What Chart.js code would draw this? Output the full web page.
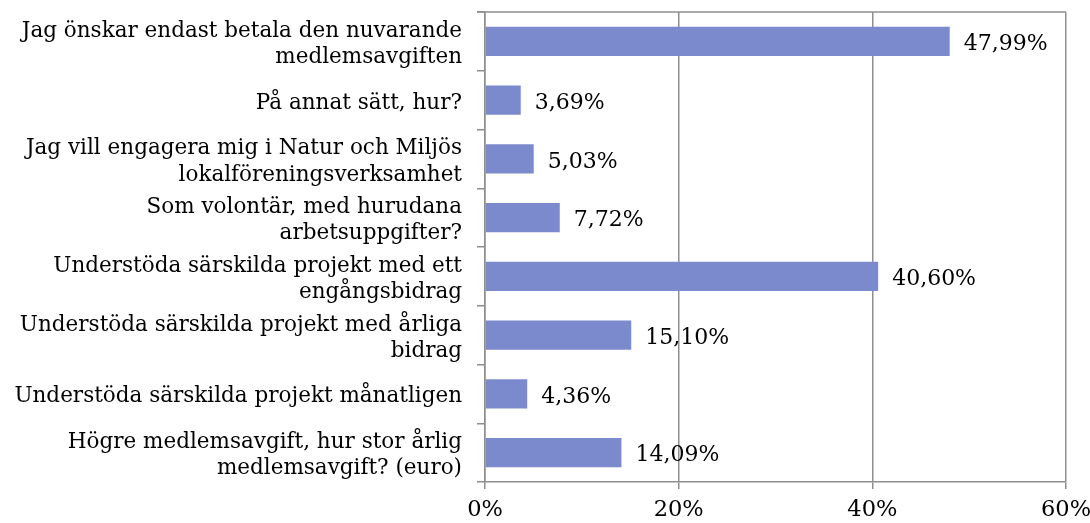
<!DOCTYPE html>
<html>
<head>
<meta charset="utf-8">
<script src="https://cdn.jsdelivr.net/npm/chart.js@4/dist/chart.umd.min.js"></script>
<style>
html,body{margin:0;padding:0;background:#fff;}
#wrap{width:1090px;height:523px;position:relative;}
</style>
</head>
<body>
<div id="wrap"><canvas id="c" width="1090" height="523"></canvas></div>
<script>
const categories = [
  ["Jag önskar endast betala den nuvarande", "medlemsavgiften"],
  ["På annat sätt, hur?"],
  ["Jag vill engagera mig i Natur och Miljös", "lokalföreningsverksamhet"],
  ["Som volontär, med hurudana", "arbetsuppgifter?"],
  ["Understöda särskilda projekt med ett", "engångsbidrag"],
  ["Understöda särskilda projekt med årliga", "bidrag"],
  ["Understöda särskilda projekt månatligen"],
  ["Högre medlemsavgift, hur stor årlig", "medlemsavgift? (euro)"]
];
const values = [47.99, 3.69, 5.03, 7.72, 40.60, 15.10, 4.36, 14.09];
const valueLabels = ["47,99%", "3,69%", "5,03%", "7,72%", "40,60%", "15,10%", "4,36%", "14,09%"];
const xTicks = [0, 20, 40, 60];

const GRID = '#8e8e8e';
const BAR = '#7b89cd';
const FONT = '"DejaVu Serif", Georgia, serif';

const valueLabelPlugin = {
  id: 'valueLabels',
  afterDatasetsDraw(chart) {
    const ctx = chart.ctx;
    const meta = chart.getDatasetMeta(0);
    ctx.save();
    ctx.font = '22px ' + FONT;
    ctx.fillStyle = '#000';
    ctx.textAlign = 'left';
    ctx.textBaseline = 'middle';
    meta.data.forEach((bar, i) => {
      ctx.fillText(valueLabels[i], bar.x + 14, bar.y + 3);
    });
    ctx.restore();
  }
};
const topBorderPlugin = {
  id: 'topBorder',
  beforeDatasetsDraw(chart) {
    const {ctx, chartArea} = chart;
    ctx.save();
    ctx.strokeStyle = GRID;
    ctx.lineWidth = 1.5;
    ctx.beginPath();
    ctx.moveTo(chartArea.left - 8, chartArea.top);
    ctx.lineTo(chartArea.right, chartArea.top);
    ctx.stroke();
    ctx.restore();
  }
};

new Chart(document.getElementById('c'), {
  type: 'bar',
  data: {
    labels: categories,
    datasets: [{
      data: values,
      backgroundColor: BAR,
      borderWidth: 0,
      barPercentage: 0.5,
      categoryPercentage: 1.0
    }]
  },
  options: {
    indexAxis: 'y',
    responsive: false,
    animation: false,
    devicePixelRatio: 1,
    layout: { padding: { top: 12, right: 24, left: 0, bottom: 0 } },
    plugins: { legend: { display: false }, tooltip: { enabled: false } },
    scales: {
      x: {
        min: 0, max: 60,
        afterBuildTicks(axis) { axis.ticks = xTicks.map(v => ({ value: v })); },
        afterFit(axis) { axis.height = 41; axis.paddingLeft = 0; axis.paddingRight = 0; },
        grid: { color: GRID, lineWidth: 1.5, tickLength: 7, drawOnChartArea: true },
        border: { color: GRID, width: 1.5 },
        ticks: {
          color: '#000',
          font: { family: FONT, size: 22.5 },
          padding: 8,
          maxRotation: 0,
          callback: (v) => v + '%'
        }
      },
      y: {
        afterFit(axis) { axis.width = 485; axis.paddingTop = 0; axis.paddingBottom = 0; },
        grid: { color: GRID, lineWidth: 1.5, offset: true, drawOnChartArea: false, tickLength: 8 },
        border: { color: GRID, width: 1.5 },
        ticks: {
          color: '#000',
          font: { family: FONT, size: 21.5, lineHeight: 1.22 },
          padding: 15,
          labelOffset: 3,
          autoSkip: false
        }
      }
    }
  },
  plugins: [valueLabelPlugin, topBorderPlugin]
});
</script>
</body>
</html>
